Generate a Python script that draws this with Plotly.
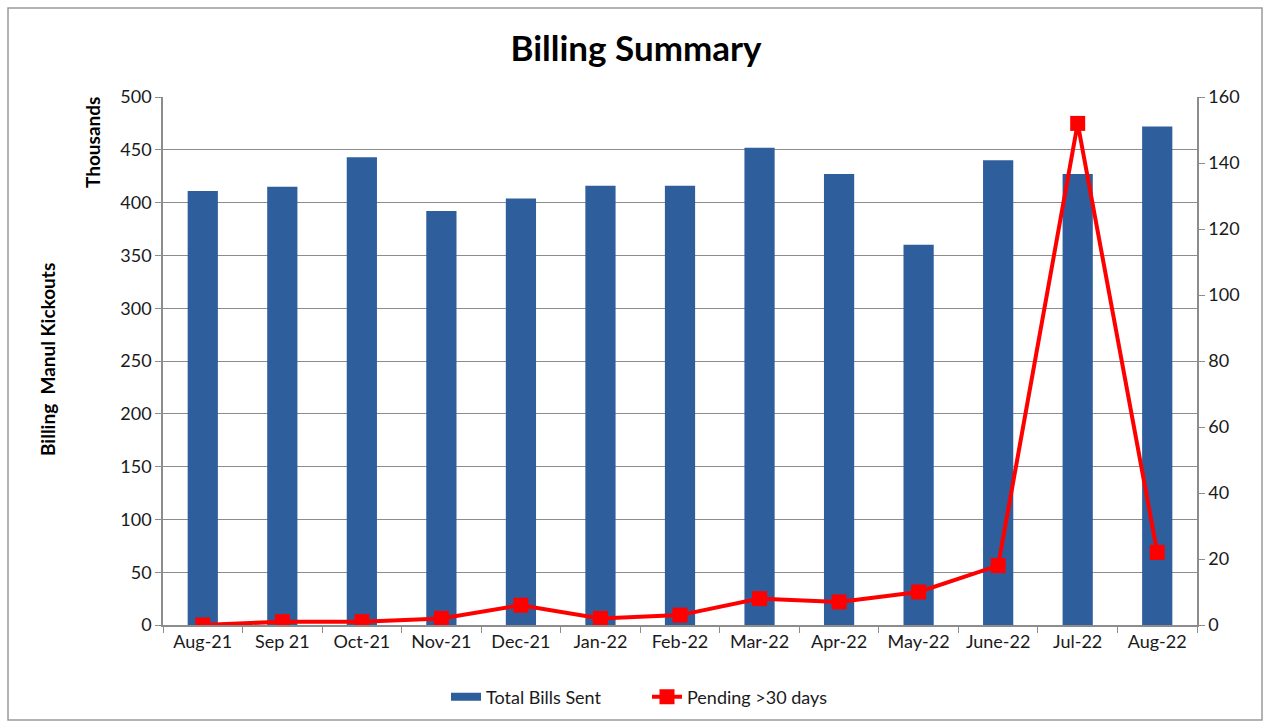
import plotly.graph_objects as go

months = ["Aug-21", "Sep 21", "Oct-21", "Nov-21", "Dec-21", "Jan-22", "Feb-22",
          "Mar-22", "Apr-22", "May-22", "June-22", "Jul-22", "Aug-22"]
total_bills_k = [411, 415, 443, 392, 404, 416, 416, 452, 427, 360, 440, 427, 472]
pending_30 = [0, 1, 1, 2, 6, 2, 3, 8, 7, 10, 18, 152, 22]

FONT = "Lato, 'Open Sans', Arial, sans-serif"
GRID = "#8c8c8c"
BLUE = "#2F5E9C"

fig = go.Figure()
fig.add_trace(go.Bar(
    x=months, y=total_bills_k, name="Total Bills Sent",
    marker=dict(color=BLUE, line=dict(width=0)),
    width=0.38, showlegend=False,
))
# legend entry drawn as a wide swatch for the bars
fig.add_trace(go.Scatter(
    x=[None], y=[None], name="Total Bills Sent", mode="lines",
    line=dict(color=BLUE, width=8),
))
fig.add_trace(go.Scatter(
    x=months, y=pending_30, name="Pending >30 days", yaxis="y2",
    mode="lines+markers",
    line=dict(color="#FF0000", width=4),
    marker=dict(symbol="square", size=15, color="#FF0000"),
))

W, H = 1272, 728
L, R, T, B = 163, 75, 97, 103
pw, ph = W - L - R, H - T - B

def px(x):
    return (x - L) / pw

def py(y):
    return (H - B - y) / ph

fig.update_layout(
    width=W, height=H,
    margin=dict(l=L, r=R, t=T, b=B),
    paper_bgcolor="white", plot_bgcolor="white",
    font=dict(family=FONT, size=18, color="#1a1a1a"),
    title=dict(text="<b>Billing Summary</b>", x=0.5, xanchor="center",
               y=1 - 49 / H, yanchor="middle",
               font=dict(family=FONT, size=35, color="#000")),
    showlegend=True,
    legend=dict(orientation="h", x=px(647), xanchor="center", y=py(697), yanchor="middle",
                font=dict(size=18), traceorder="normal",
                entrywidth=156, entrywidthmode="pixels"),
    xaxis=dict(
        type="category", range=[-0.5, len(months) - 0.5], showgrid=False,
        showline=True, linecolor=GRID, linewidth=1.5,
        ticks="outside", tickson="boundaries", ticklen=6, tickcolor=GRID,
        tickfont=dict(size=18), mirror=False,
    ),
    yaxis=dict(
        range=[0, 500], dtick=50, showgrid=True, gridcolor=GRID, gridwidth=1.2,
        showline=True, linecolor=GRID, linewidth=1.5,
        ticks="outside", ticklen=6, tickcolor=GRID,
        tickfont=dict(size=18), zeroline=False,
    ),
    yaxis2=dict(
        range=[0, 160], dtick=20, overlaying="y", side="right", showgrid=False,
        showline=True, linecolor=GRID, linewidth=1.5,
        ticks="outside", ticklen=6, tickcolor=GRID,
        tickfont=dict(size=18), zeroline=False,
    ),
    annotations=[
        dict(text="<b>Billing  Manul Kickouts</b>", xref="paper", yref="paper",
             x=px(47), y=py(360), textangle=-90, showarrow=False,
             font=dict(size=19, color="#000"), xanchor="center", yanchor="middle"),
        dict(text="<b>Thousands</b>", xref="paper", yref="paper",
             x=px(92), y=py(143), textangle=-90, showarrow=False,
             font=dict(size=19, color="#000"), xanchor="center", yanchor="middle"),
    ],
    shapes=[
        dict(type="rect", xref="paper", yref="paper",
             x0=px(8), x1=px(1262), y0=py(720), y1=py(8),
             line=dict(color="#9a9a9a", width=1.5), fillcolor="rgba(0,0,0,0)", layer="below"),
    ],
)

fig.write_html("out.html")
